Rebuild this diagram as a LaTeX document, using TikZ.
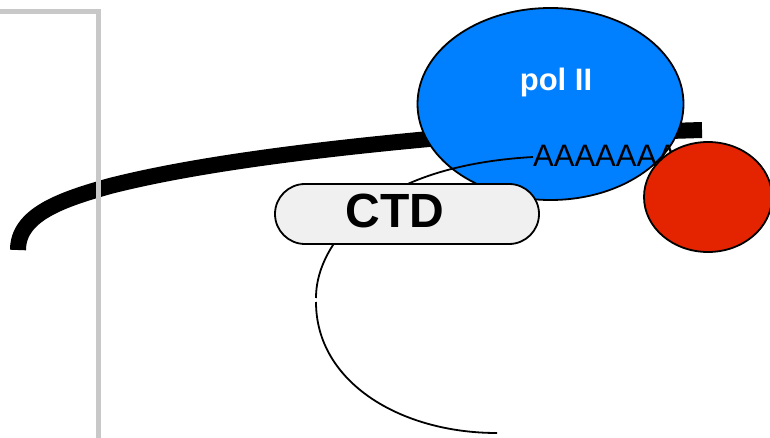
\documentclass[tikz,border=0pt]{standalone}
\usepackage{fontspec}
\setmainfont{Liberation Sans}
\usetikzlibrary{shapes.geometric}
\definecolor{polblue}{RGB}{0,128,255}
\definecolor{redprot}{RGB}{228,36,0}
\definecolor{ctdfill}{RGB}{240,240,240}
\definecolor{framegray}{RGB}{200,200,200}
\tikzset{
  blob/.style={ellipse, draw=black, line width=1.8pt, inner sep=0pt},
  rna/.style={draw=black, line width=1.8pt},
}
\begin{document}
\begin{tikzpicture}[x=1pt,y=-1pt]
\useasboundingbox (0,0) rectangle (770,438);
% thick DNA line
\draw[line width=16pt, line cap=butt] (18,250) .. controls (18,215) and (60,200) .. (110,186)
   .. controls (200,163) and (330,148) .. (440,138) -- (702,130);
% gray frame corner
\draw[framegray, line width=5pt] (0,11.5) -- (98,11.5) -- (98,438);
% pol II
\node[blob, fill=polblue, minimum width=266pt, minimum height=192pt] (pol) at (550.5,104) {};
\node[text=white, font=\bfseries\fontsize{31}{31}\selectfont] (pollabel) at (556,82) {pol II};
% RNA thin curve
\coordinate (r0) at (533,157);
\coordinate (r1) at (410,183);
\coordinate (r2) at (333,245);
\coordinate (r3) at (316,298);
\coordinate (r4) at (316,302);
\coordinate (r5) at (497,433);
\draw[rna] (r0) .. controls (480,160) and (440,170) .. (r1)
  .. controls (375,198) and (345,225) .. (r2) .. controls (322,262) and (316,280) .. (r3);
\draw[rna] (r4) .. controls (316,382) and (400,433) .. (r5);
% poly A
\node[anchor=base west, inner sep=0pt, font=\fontsize{31}{31}\selectfont] (polya) at (533,167) {AAAAAAA};
% CTD
\node[draw=black, line width=1.8pt, fill=ctdfill, rounded corners=30pt,
  minimum width=264pt, minimum height=60pt, inner sep=0pt] (ctd) at (407,214) {};
\node[font=\bfseries\fontsize{48}{48}\selectfont] (ctdlabel) at (395,211) {CTD};
% red protein
\node[blob, fill=redprot, minimum width=128pt, minimum height=110pt] (red) at (708,197) {};
\end{tikzpicture}
\end{document}
